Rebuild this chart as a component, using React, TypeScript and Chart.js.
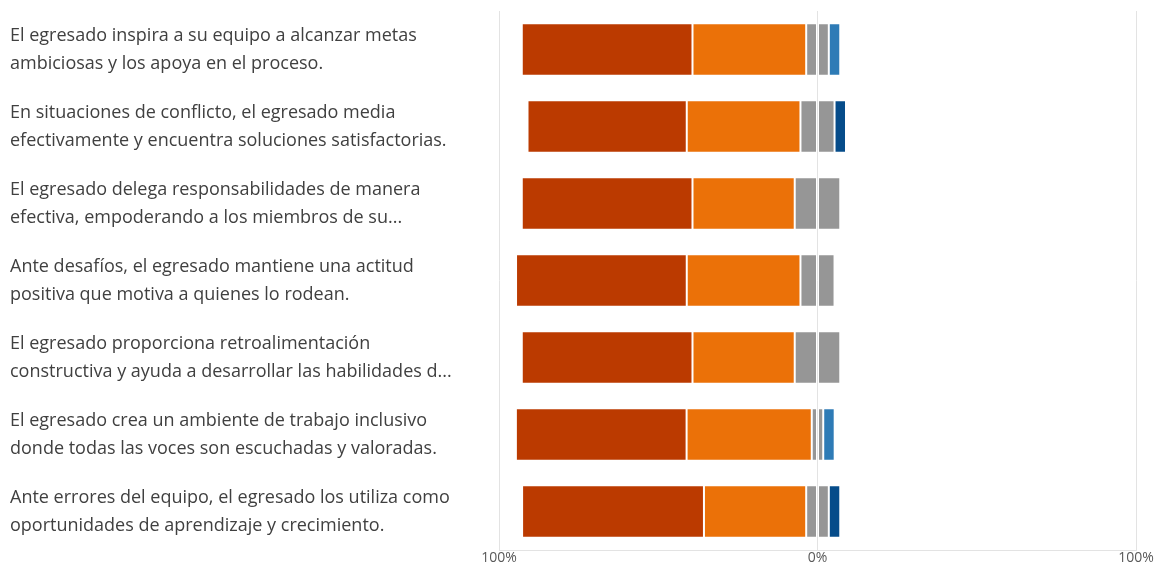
import React, { useEffect, useRef } from "react";
import { Chart, registerables } from "chart.js";

Chart.register(...registerables);

const categories: string[][] = [
  ["El egresado inspira a su equipo a alcanzar metas", "ambiciosas y los apoya en el proceso."],
  ["En situaciones de conflicto, el egresado media", "efectivamente y encuentra soluciones satisfactorias."],
  ["El egresado delega responsabilidades de manera", "efectiva, empoderando a los miembros de su..."],
  ["Ante desafíos, el egresado mantiene una actitud", "positiva que motiva a quienes lo rodean."],
  ["El egresado proporciona retroalimentación", "constructiva y ayuda a desarrollar las habilidades d..."],
  ["El egresado crea un ambiente de trabajo inclusivo", "donde todas las voces son escuchadas y valoradas."],
  ["Ante errores del equipo, el egresado los utiliza como", "oportunidades de aprendizaje y crecimiento."],
];

// percentages per response level
const totalmenteDeAcuerdo = [53.6, 50.0, 53.6, 53.6, 53.6, 53.6, 57.1];
const deAcuerdo = [35.7, 35.7, 32.1, 35.7, 32.1, 39.3, 32.1];
const neutral = [7.1, 10.7, 14.3, 10.7, 14.3, 3.6, 7.1];
const enDesacuerdo = [3.6, 0, 0, 0, 0, 3.6, 0];
const totalmenteEnDesacuerdo = [0, 3.6, 0, 0, 0, 0, 3.6];

const tickValues = [-100, 0, 100];
const tickLabels = ["100%", "0%", "100%"];

const COLORS = {
  dark: "#BB3A00",
  orange: "#EB7108",
  gray: "#969696",
  lightBlue: "#2E7BB6",
  darkBlue: "#064C8A",
};

export default function App() {
  const ref = useRef<HTMLCanvasElement | null>(null);

  useEffect(() => {
    if (!ref.current) return;
    const half = neutral.map((v) => v / 2);
    const border = "rgba(255,255,255,0.15)";
    const mk = (label: string, data: number[], color: string) => ({
      label,
      data,
      backgroundColor: color,
      borderColor: border,
      borderWidth: 1,
      borderSkipped: false as const,
      categoryPercentage: 1,
      barPercentage: 0.68,
    });
    const chart = new Chart(ref.current, {
      type: "bar",
      data: {
        labels: categories,
        datasets: [
          mk("Neutral", half.map((v) => -v), COLORS.gray),
          mk("De acuerdo", deAcuerdo.map((v) => -v), COLORS.orange),
          mk("Totalmente de acuerdo", totalmenteDeAcuerdo.map((v) => -v), COLORS.dark),
          mk("Neutral ", half, COLORS.gray),
          mk("En desacuerdo", enDesacuerdo, COLORS.lightBlue),
          mk("Totalmente en desacuerdo", totalmenteEnDesacuerdo, COLORS.darkBlue),
        ],
      },
      options: {
        indexAxis: "y",
        animation: false,
        responsive: true,
        maintainAspectRatio: false,
        layout: { padding: { left: 10, right: 27, top: 11, bottom: 0 } },
        plugins: { legend: { display: false }, tooltip: { enabled: false } },
        scales: {
          x: {
            stacked: true,
            min: -100,
            max: 100,
            afterBuildTicks: (scale: any) => {
              scale.ticks = tickValues.map((v) => ({ value: v }));
            },
            afterFit: (scale: any) => {
              scale.height = 14;
              scale.paddingLeft = 0;
              scale.paddingRight = 0;
            },
            grid: { color: "#e3e3e3", drawTicks: false },
            border: { display: true, color: "#e3e3e3" },
            ticks: {
              padding: 0,
              color: "#595959",
              font: { family: "Open Sans", size: 14 },
              callback: (v: any) => tickLabels[tickValues.indexOf(Number(v))] ?? "",
            },
          },
          y: {
            stacked: true,
            afterFit: (scale: any) => {
              scale.width = 489;
              scale.paddingTop = 0;
              scale.paddingBottom = 0;
            },
            grid: { display: false },
            border: { display: false },
            ticks: {
              autoSkip: false,
              crossAlign: "far",
              color: "#404040",
              font: { family: "Open Sans", size: 18, lineHeight: "28px" },
            },
          },
        },
      },
    } as any);
    return () => chart.destroy();
  }, []);

  return (
    <div style={{ position: "fixed", left: 0, top: 0, width: 1163, height: 564, background: "#fff" }}>
      <canvas ref={ref} />
    </div>
  );
}
